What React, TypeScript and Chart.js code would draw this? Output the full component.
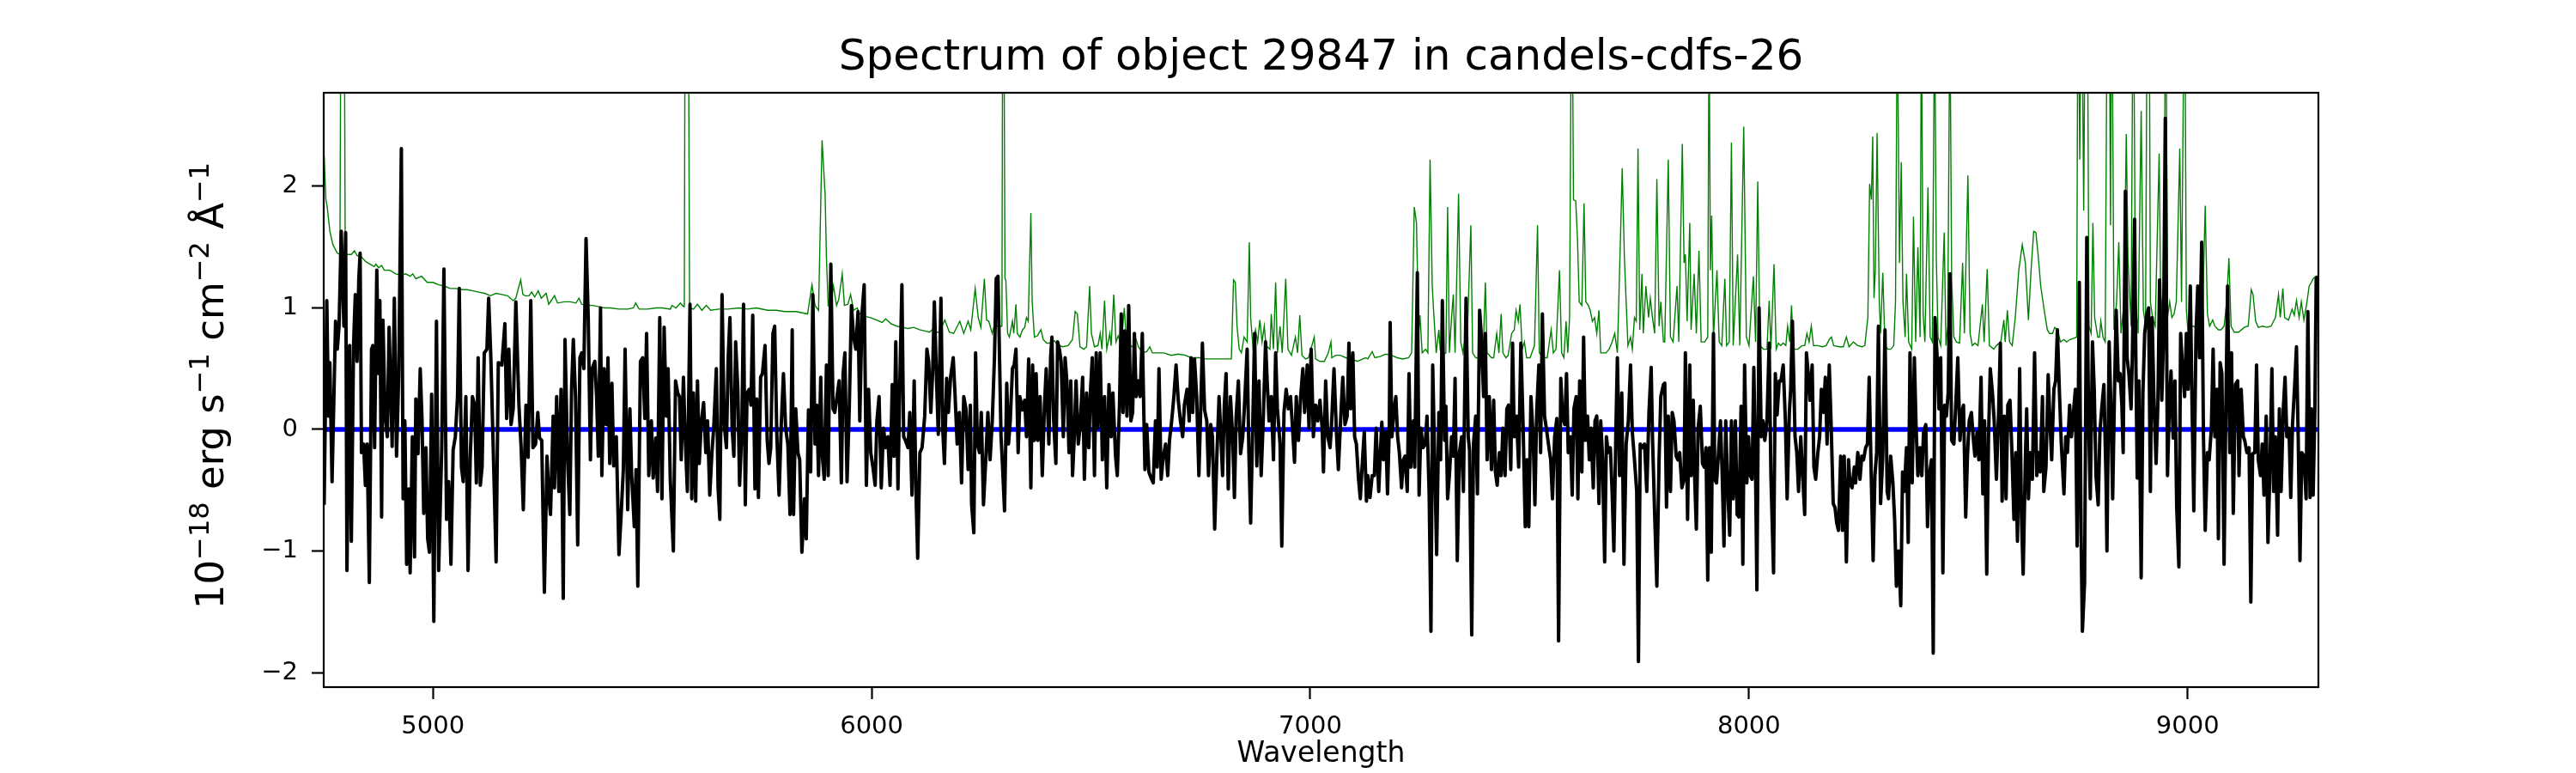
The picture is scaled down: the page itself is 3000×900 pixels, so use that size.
import React, { useEffect, useRef } from 'react';
import Chart from 'chart.js/auto';

const TITLE = 'Spectrum of object 29847 in candels-cdfs-26';
const X_LABEL = 'Wavelength';
// y label as [text, isSuperscript] pieces: 10^-18 erg s^-1 cm^-2 Å^-1
const Y_LABEL_PARTS: [string, boolean][] = [
	['10', false],
	['\u221218', true],
	[' erg s', false],
	['\u22121', true],
	[' cm', false],
	['\u22122', true],
	[' \u00C5', false],
	['\u22121', true],
];
const FONT = "'DejaVu Sans', sans-serif";

const X_TICKS = [5000, 6000, 7000, 8000, 9000];
const Y_TICKS = [-2, -1, 0, 1, 2];
const X_MIN = 4751;
const X_MAX = 9298;
const Y_MIN = -2.12;
const Y_MAX = 2.77;

// observed flux (black)
const FLUX_WAVE = [
	4752, 4758, 4762, 4765, 4770, 4778, 4782, 4786, 4791, 4797,
	4801, 4804, 4810, 4814, 4819, 4823, 4827, 4831, 4834, 4837,
	4842, 4846, 4850, 4855, 4860, 4863, 4867, 4872, 4876, 4879,
	4883, 4886, 4891, 4896, 4900, 4904, 4907, 4912, 4917, 4922,
	4928, 4932, 4936, 4940, 4945, 4948, 4953, 4958, 4961, 4966,
	4971, 4975, 4979, 4984, 4988, 4992, 4997, 5002, 5008, 5013,
	5020, 5025, 5031, 5036, 5041, 5046, 5051, 5056, 5060, 5065,
	5069, 5075, 5080, 5085, 5090, 5095, 5099, 5103, 5108, 5112,
	5117, 5123, 5127, 5132, 5137, 5144, 5149, 5157, 5164, 5168,
	5173, 5178, 5183, 5189, 5196, 5201, 5206, 5212, 5217, 5223,
	5228, 5234, 5239, 5243, 5248, 5254, 5260, 5264, 5268, 5274,
	5277, 5282, 5287, 5292, 5297, 5301, 5307, 5312, 5316, 5320,
	5325, 5330, 5335, 5339, 5344, 5349, 5354, 5359, 5363, 5369,
	5373, 5377, 5382, 5385, 5390, 5395, 5399, 5403, 5408, 5412,
	5418, 5424, 5429, 5434, 5438, 5444, 5449, 5453, 5459, 5463,
	5467, 5473, 5478, 5483, 5487, 5492, 5498, 5502, 5508, 5512,
	5517,
	5522, 5527, 5532, 5536, 5541, 5548, 5553, 5558, 5562, 5566,
	5571, 5575, 5580, 5586, 5590, 5594, 5599, 5603, 5607, 5612,
	5617, 5622, 5626, 5631, 5636, 5640, 5646, 5650, 5654, 5659,
	5664, 5669, 5673, 5677, 5682, 5686, 5690, 5695, 5699, 5704,
	5708, 5712, 5716, 5721, 5725, 5729, 5734, 5738, 5742, 5747,
	5751, 5757, 5762, 5766, 5770, 5775, 5779, 5784, 5789, 5794,
	5799, 5804, 5809, 5814, 5819, 5822, 5827, 5832, 5836, 5841,
	5847, 5851, 5856, 5861, 5866, 5871, 5875, 5879, 5884, 5887,
	5892, 5897, 5901, 5907, 5912, 5916, 5921, 5926, 5931, 5935,
	5939, 5944, 5949, 5954, 5959, 5964, 5969, 5973, 5978, 5983,
	5988, 5993, 5998, 6003, 6008, 6012, 6017, 6022, 6027, 6032,
	6037, 6042, 6047, 6051, 6055, 6060, 6064, 6069, 6073, 6077,
	6083, 6087, 6092, 6097, 6101, 6105, 6110, 6115, 6121, 6126,
	6130, 6135, 6139, 6143, 6148, 6152, 6158, 6162, 6166, 6171,
	6175, 6180, 6186, 6190, 6195, 6200, 6205, 6210, 6215, 6220,
	6225, 6228, 6233, 6237, 6241, 6246, 6250, 6255, 6261, 6265,
	6270, 6275, 6280, 6284,
	6288, 6295, 6298, 6303, 6308, 6312, 6316, 6321, 6325, 6329,
	6334, 6338, 6344, 6349, 6353, 6358, 6363, 6367, 6371, 6375,
	6379, 6384, 6389, 6394, 6398, 6404, 6408, 6411, 6415, 6420,
	6424, 6428, 6432, 6437, 6441, 6445, 6450, 6454, 6458, 6462,
	6466, 6471, 6475, 6481, 6485, 6490, 6495, 6499, 6503, 6508,
	6512, 6516, 6521, 6526, 6531, 6536, 6541, 6546, 6550, 6556,
	6560, 6565, 6569, 6573, 6577, 6582, 6586, 6591, 6595, 6599,
	6603, 6608, 6612, 6617, 6623, 6627, 6632, 6637, 6642, 6647,
	6651, 6655, 6660, 6664, 6670, 6675, 6679, 6684, 6689, 6694,
	6699, 6704, 6709, 6713, 6719, 6724, 6728, 6732, 6736, 6741,
	6746, 6750, 6754, 6759, 6764, 6768, 6773, 6777, 6782, 6787,
	6792, 6795, 6800, 6804, 6808, 6813, 6818, 6823, 6827, 6831,
	6836, 6841, 6846, 6850, 6856, 6860, 6864, 6869, 6873, 6878,
	6883, 6888, 6893, 6898, 6902, 6906, 6911, 6916, 6921, 6925,
	6931, 6935, 6940, 6945, 6950, 6955, 6960, 6964, 6968, 6973,
	6978, 6983, 6987, 6993, 6997, 7002, 7007, 7012, 7017, 7022,
	7027, 7030, 7035, 7040, 7045,
	7048, 7054, 7060, 7064, 7069, 7074, 7079, 7084, 7088, 7092,
	7097, 7101, 7105, 7110, 7114, 7118, 7123, 7128, 7131, 7136,
	7141, 7146, 7150, 7156, 7159, 7163, 7167, 7172, 7176, 7180,
	7182, 7186, 7191, 7195, 7199, 7203, 7208, 7212, 7216, 7221,
	7225, 7229, 7235, 7238, 7244, 7248, 7252, 7257, 7262, 7266,
	7271, 7275, 7279, 7284, 7288, 7293, 7297, 7301, 7306, 7309,
	7313, 7317, 7322, 7326, 7330, 7335, 7340, 7345, 7349, 7355,
	7360, 7363, 7368, 7372, 7377, 7381, 7386, 7390, 7395, 7399,
	7403, 7408, 7413, 7418, 7422, 7426, 7431, 7435, 7439, 7444,
	7448, 7452, 7457, 7461, 7465, 7470, 7475, 7480, 7485, 7490,
	7494, 7498, 7503, 7508, 7512, 7516, 7521, 7525, 7529, 7534,
	7538, 7544, 7548, 7552, 7557, 7562, 7566, 7571, 7575, 7580,
	7584, 7588, 7593, 7597, 7601, 7606, 7610, 7614, 7619, 7623,
	7627, 7632, 7636, 7640, 7645, 7649, 7653, 7658, 7662, 7666,
	7671, 7675, 7679, 7684, 7688, 7692, 7697, 7700, 7705, 7710,
	7715, 7720, 7725, 7730, 7734, 7739, 7744, 7748, 7752, 7758,
	7762, 7767, 7772, 7777, 7780, 7785, 7790, 7795, 7799, 7805,
	7808, 7812, 7816, 7821, 7825, 7829, 7834, 7838, 7842, 7847,
	7852, 7855, 7860, 7865, 7868, 7873, 7876, 7880, 7884, 7889,
	7894, 7898, 7902, 7906, 7910, 7914, 7919, 7922, 7926, 7930,
	7935, 7939, 7943, 7947, 7951, 7956, 7960, 7964, 7969, 7973,
	7977, 7982, 7986, 7990, 7995, 7999, 8003, 8007, 8011, 8015,
	8018, 8023, 8028, 8032, 8036, 8041, 8046, 8050, 8056, 8060,
	8064, 8069, 8073, 8078, 8083, 8087, 8092, 8095, 8099, 8105,
	8109, 8113, 8118, 8122, 8127, 8131, 8135, 8139, 8144, 8148,
	8152, 8157, 8161, 8165, 8170, 8174, 8178, 8183, 8187, 8192,
	8196, 8200, 8204, 8209, 8213, 8217, 8222, 8227, 8230, 8235,
	8240, 8243, 8248, 8253, 8257, 8261, 8266, 8270, 8274, 8279,
	8283, 8287, 8291, 8295, 8300, 8305, 8310, 8315, 8318, 8323,
	8328, 8332, 8336, 8341, 8346, 8350, 8354, 8359, 8363, 8367,
	8372, 8377, 8381, 8385, 8390, 8394, 8398, 8403, 8407, 8411,
	8416, 8420, 8424, 8429, 8433, 8437, 8442, 8446, 8450, 8454,
	8458, 8462, 8467, 8471, 8476, 8481, 8485, 8489, 8494, 8498,
	8502, 8507, 8511, 8515, 8520, 8524, 8529, 8533, 8537, 8542,
	8546, 8550, 8555, 8559, 8564, 8569,
	8573, 8577, 8582, 8586, 8590, 8595, 8599, 8604, 8608, 8612,
	8617, 8621, 8625, 8630, 8633, 8637, 8641, 8646, 8651, 8656,
	8660, 8664, 8669, 8672, 8677, 8682, 8686, 8690, 8695, 8699,
	8703, 8708, 8712, 8718, 8722, 8726, 8731, 8735, 8739, 8744,
	8748, 8753, 8757, 8760, 8765, 8770, 8774, 8778, 8783, 8787,
	8791, 8796, 8800, 8804, 8809, 8814, 8816, 8821, 8825, 8829,
	8833, 8837, 8842, 8846, 8850, 8853, 8858, 8862, 8866, 8871,
	8874, 8879, 8882, 8885, 8889, 8894, 8898, 8902, 8907, 8911,
	8915, 8919, 8923, 8928, 8932, 8936, 8941, 8945, 8949, 8954,
	8958, 8962, 8967, 8971, 8975, 8980, 8984, 8988, 8993, 8997,
	9001, 9006, 9010, 9014, 9019, 9023, 9027, 9032, 9036, 9040,
	9045, 9049, 9054, 9058, 9062, 9067, 9070, 9074, 9078, 9083,
	9087, 9091, 9096, 9100, 9104, 9109, 9114, 9117, 9122, 9127,
	9130, 9135, 9140, 9144, 9148, 9153, 9157, 9161, 9166, 9170,
	9174, 9179, 9183, 9187, 9192, 9196, 9200, 9205, 9209, 9213,
	9218, 9222, 9226, 9231, 9235, 9239, 9244, 9248, 9252, 9256,
	9260, 9265, 9270, 9274, 9279, 9282, 9286, 9290, 9293, 9297,
];

const FLUX = [
	-0.62, 1.06, 0.11, 0.55, -0.43, 0.89, 0.66, 0.85, 1.63, 0.85,
	1.62, -1.16, 0.69, -0.92, 0.69, 1.11, 0.56, 1.24, 1.45, -0.19,
	-0.12, -0.46, -0.12, -1.26, 0.66, 0.69, -0.15, 1.31, 0.46, 1.06,
	-0.72, 0.9, 0.11, -0.06, 0.84, 0.3, -0.14, 1.08, -0.22, 0.45,
	2.31, -0.57, 0.07, -1.11, -0.49, -1.18, -0.06, -1.05, 0.25, -0.2,
	0.5, 0.09, -0.69, -0.15, -0.9, -1.01, 0.29, -1.58, 0.89, -1.16,
	-0.15, 1.32, -0.74, -0.43, -1.11, -0.17, -0.06, 0.27, 1.16, -0.31,
	-0.43, 0.27, -1.16, -0.23, 0.27, 0.2, -0.44, 0.59, -0.46, -0.31,
	0.63, 0.66, 1.08, 0.59, -0.1, -1.09, 0.55, 0.53, 0.87, 0.09,
	0.66, 0.04, 0.17, 1.05, 0.2, -0.15, -0.66, 0.2, -0.23, 1.06,
	-0.15, -0.12, 0.14, -0.07, -0.09, -1.34, -0.22, -0.54, -0.7, 0.11,
	-0.48, 0.27, -0.51, 0.33, -1.39, 0.74, -0.25, -0.7, 0.33, 0.74,
	0.27, -0.95, 0.59, 0.63, 0.5, 1.57, 0.92, -0.25, 0.5, 0.56,
	0.27, -0.22, 1.0, -0.38, 0.5, 0.04, 0.59, -0.28, 0.38, -0.3,
	-0.06, -1.03, -0.7, -0.33, 0.66, -0.66, 0.17, -0.38, -0.8, -0.33,
	-1.29, 0.56, 0.59, 0.09, 0.79, -0.38, 0.07, -0.4, -0.07, -0.51,
	0.92,
	-0.57, 0.84, 0.11, 0.5, -0.41, -1.0, 0.4, 0.3, 0.27, -0.25,
	0.43, -0.06, -0.51, 1.03, -0.57, 0.3, -0.59, 0.4, -0.28, 0.07,
	0.22, -0.19, 0.07, -0.54, -0.19, 0.01, 0.5, -0.48, -0.74, 1.11,
	0.04, -0.15, 0.59, 0.92, 0.01, -0.22, 0.72, 0.33, -0.46, -0.02,
	1.03, -0.62, 0.3, 0.33, 0.2, 0.94, -0.49, 0.25, -0.56, 0.43,
	0.46, 0.69, -0.09, -0.28, -0.15, 0.79, 0.85, -0.06, -0.54, 0.04,
	0.46, 0.01, -0.12, -0.7, 0.82, -0.7, 0.17, -0.19, -0.25, -1.01,
	-0.57, -0.9, 0.16, -0.35, 1.11, -0.12, 0.2, -0.38, 0.43, -0.19,
	-0.41, 0.53, -0.38, 1.36, 0.17, 0.14, 0.27, 0.4, -0.44, 0.46,
	0.63, -0.43, 0.17, 1.02, 0.76, 0.66, 0.97, 0.07, 0.95, 1.19,
	-0.46, 0.33, -0.19, -0.31, -0.46, 0.07, 0.27, -0.48, 0.01, -0.15,
	-0.06, -0.46, 0.37, -0.22, 0.72, -0.49, 0.33, 1.19, -0.06, -0.09,
	-0.15, 0.14, -0.54, 0.4, -0.49, -1.06, -0.19, -0.15, 0.11, 0.66,
	0.56, 0.14, 0.46, 1.05, 0.4, -0.04, 1.08, 0.01, -0.28, 0.42,
	0.14, 0.43, 0.59, 0.3, -0.12, 0.14, -0.44, 0.27, 0.17, -0.33,
	0.2, -0.62, -0.85, 0.63, -0.12, -0.19, 0.14, -0.62, -0.19, 0.14,
	-0.25, 0.07, 0.59, 1.24,
	1.26, -0.06, -0.27, -0.67, 0.38, -0.12, 0.07, 0.5, 0.53, 0.66,
	-0.19, 0.27, 0.16, 0.24, -0.06, 0.58, -0.48, 0.53, -0.09, 0.46,
	-0.09, 0.27, -0.38, 0.2, 0.5, -0.12, 0.59, 0.76, 0.07, -0.28,
	0.72, 0.66, 0.56, -0.06, 0.59, 0.4, -0.19, 0.4, -0.38, -0.06,
	0.4, -0.12, 0.01, 0.43, -0.41, 0.3, -0.15, 0.33, 0.59, -0.38,
	0.63, 0.01, 0.63, -0.25, 0.27, -0.48, 0.37, -0.06, 0.3, -0.22,
	-0.38, 0.2, 0.95, 0.14, 0.81, 0.11, 1.02, 0.07, 0.14, 0.79,
	0.27, 0.4, 0.27, 0.79, -0.33, 0.04, -0.35, -0.4, -0.44, 0.07,
	-0.31, 0.5, -0.41, -0.25, -0.12, -0.38, -0.09, 0.07, 0.27, 0.53,
	0.24, 0.07, -0.06, 0.2, 0.33, 0.07, 0.59, 0.14, 0.58, 0.27,
	-0.38, 0.14, 0.71, 0.16, 0.07, -0.38, 0.04, -0.06, -0.82, -0.22,
	0.27, 0.04, -0.38, 0.2, 0.46, -0.49, 0.27, -0.06, -0.56, 0.11,
	0.4, -0.2, -0.06, 0.2, 0.66, -0.19, -0.77, 0.07, 0.79, -0.3,
	0.4, -0.38, 0.11, 0.72, 0.37, 0.07, 0.27, -0.25, 0.63, 0.17,
	-0.12, -0.96, 0.14, 0.33, 0.17, 0.27, -0.02, -0.27, 0.27, -0.09,
	0.27, 0.5, 0.14, 0.53, 0.01, 0.66, -0.06, 0.2, 0.07, 0.24,
	0.01, -0.35, 0.4, -0.06, -0.15,
	0.01, 0.5, -0.06, -0.33, 0.07, 0.43, 0.04, 0.11, 0.71, 0.17,
	0.63, -0.06, -0.12, -0.41, -0.57, -0.31, -0.02, -0.59, -0.38, -0.56,
	-0.38, -0.38, 0.01, -0.51, -0.25, 0.06, -0.25, -0.02, -0.53, 0.01,
	0.88, -0.06, 0.17, 0.27, -0.06, -0.19, -0.48, -0.25, -0.22, -0.51,
	0.46, -0.31, 0.07, -0.31, 1.29, -0.54, 0.01, -0.15, -0.12, 0.11,
	-0.54, -1.66, 0.53, -0.33, -1.03, 0.14, -0.25, 1.06, -0.09, 0.19,
	-0.57, -0.38, -0.06, -0.22, 0.42, -1.08, -0.19, -0.06, -0.51, 1.08,
	-0.06, -0.17, -1.69, -0.12, 0.11, -0.53, 0.98, 0.76, 0.27, 0.79,
	-0.25, 0.27, -0.33, 0.24, -0.35, -0.46, -0.19, -0.38, 0.01, -0.38,
	0.17, 0.2, -0.33, 0.71, -0.06, 0.11, -0.31, 0.71, 0.04, -0.8,
	-0.25, -0.8, 0.27, -0.06, -0.62, 0.14, 0.53, -0.19, 0.95, 0.11,
	0.01, -0.15, -0.25, -0.57, -0.06, 0.09, -1.74, 0.42, 0.11, 0.04,
	0.46, -0.19, -0.06, -0.54, 0.17, 0.27, -0.57, 0.4, -0.35, 0.76,
	-0.09, 0.11, -0.25, 0.01, -0.48, 0.07, 0.11, -0.61, 0.07, -0.22,
	-1.09, -0.06, -0.19, -0.15, -0.51, -1.0, 0.07, 0.59, -0.38, 0.3,
	-1.11, -0.12, 0.07, 0.53, -0.02, -0.25, -0.51, -1.91, -0.12, -0.15,
	-0.12, -0.51, 0.14, 0.51, -0.06, -0.7, -1.29, -0.25, 0.27, 0.37,
	0.38, -0.64, 0.11, -0.51, 0.14, 0.07, -0.22, -0.25, -0.19, -0.48,
	-0.41, 0.63, -0.74, 0.53, -0.38, 0.24, -0.38, -0.82, 0.01, 0.19,
	-0.28, -0.31, -0.15, -1.24, -0.15, -1.01, 0.79, -0.41, -0.44, -0.22,
	0.07, -0.38, -0.96, 0.07, -0.44, -0.87, 0.07, -0.57, 0.07, -0.7,
	-0.72, 0.19, -1.11, 0.53, -0.44, -0.06, -0.38, -0.41, 0.51, -0.35,
	-1.32, 1.0, -0.06, 0.07, -0.09, 0.07, 0.71, -0.38, -1.18, 0.46,
	0.12, 0.4, 0.4, 0.53, 0.07, -0.57, 0.14, 0.33, 0.89, -0.06,
	-0.19, -0.51, -0.06, -0.35, -0.7, 0.63, 0.46, 0.24, 0.53, -0.31,
	-0.41, -0.19, -0.06, 0.33, 0.14, 0.43, -0.12, 0.53, 0.07, -0.61,
	-0.64, -0.77, -0.83, -0.22, -0.83, -0.22, -1.09, -0.25, -0.44, -0.48,
	-0.31, -0.44, -0.19, -0.41, -0.22, -0.25, -0.15, -0.12, 0.43, -0.43,
	-1.08, -0.38, -0.19, 0.85, -0.61, -0.22, 0.82, -0.51, -0.57, -0.22,
	-0.44, -0.74, -1.29, -1.0, -1.45, -0.35, -0.51, -0.15, -0.93, 0.63,
	-0.44, 0.59, 0.01, -0.38, -0.15, -0.38, -0.02, 0.04, -0.8, -0.38,
	-0.25, -1.84, 0.92, 0.59, 0.17, 0.59, -1.18, 0.2, 0.11, 0.3,
	1.28, -0.09, -0.12, 0.17, 0.59, -0.09, 0.14, 0.2, -0.72, -0.22,
	0.07, 0.14, -0.06, -0.22, -0.02, -0.25, 0.43, -0.53, 0.07, -1.19,
	-0.06, 0.5, 0.3, 0.07, -0.41, 0.14,
	0.71, -0.59, 0.11, -0.57, 0.2, 0.24, -0.15, -0.74, -0.19, -0.92,
	0.5, -0.7, -1.19, -0.25, 0.17, -0.57, -0.19, -0.41, 0.63, -0.38,
	-0.19, -0.35, 0.27, -0.51, -0.31, 0.45, 0.07, -0.25, 0.33, 0.4,
	0.82, 0.27, -0.12, -0.53, -0.06, -0.19, 0.2, -0.06, 0.11, 0.33,
	-0.96, 1.21, -0.87, -1.66, -1.26, 1.58, 0.11, -0.57, 0.72, 0.33,
	-0.38, -0.62, -0.02, 0.17, 0.37, -0.43, -1.0, 0.72, 0.2, -0.57,
	0.27, 0.98, 0.4, 0.46, 0.2, -0.19, 1.96, 0.59, 0.46, 0.17,
	0.63, 1.73, 0.53, -0.4, 0.4, -1.22, 0.3, 0.79, 0.95, 1.0,
	-0.51, 0.92, 0.27, -0.28, 0.2, 1.23, 0.24, 0.76, 2.56, -0.38,
	0.17, 0.48, -0.07, 0.4, -0.64, -1.13, 0.79, 0.53, 0.27, 0.79,
	0.33, 1.18, 0.2, -0.67, 0.79, 1.18, 0.59, 1.54, -0.06, -0.83,
	-0.19, -0.25, 0.01, 0.66, -0.06, 0.33, -0.9, 0.55, 0.46, -1.11,
	0.17, 1.18, -0.19, 0.63, -0.69, 0.37, 0.4, -0.38, 0.33, -0.06,
	-0.09, -0.19, -0.15, -1.42, -0.2, -0.19, 0.53, -0.25, -0.38, -0.12,
	-0.54, 0.11, -0.93, -0.41, 0.5, -0.51, -0.06, -0.87, 0.17, -0.51,
	0.17, 0.43, -0.06, 0.01, -0.56, 0.04, 0.37, 0.68, -0.06, -1.08,
	-0.19, -0.22, -0.57, 0.97, -0.56, 0.17, -0.54, 0.17, 1.24, 1.26,
];

// noise / sky spectrum (green)
const NOISE_WAVE = [
	4752, 4756, 4759, 4765, 4772, 4782, 4788, 4790, 4794, 4798,
	4800, 4804, 4814, 4821, 4827, 4837, 4847, 4857, 4866, 4870,
	4876, 4883, 4889, 4902, 4915, 4928, 4938, 4948, 4954, 4961,
	4974, 4987, 5000, 5013, 5026, 5039, 5052, 5065, 5078, 5091,
	5104, 5118, 5131, 5144, 5157, 5170, 5183, 5189, 5194, 5200,
	5205, 5210, 5219, 5225, 5232, 5240, 5247, 5258, 5264, 5277,
	5284, 5300, 5313, 5326, 5333, 5339, 5352, 5365, 5378, 5391,
	5404, 5424, 5444, 5457, 5462, 5470, 5489, 5509,
	5522, 5541, 5545, 5554, 5564, 5571, 5573, 5575, 5578, 5582,
	5585, 5594, 5603, 5613, 5623, 5633, 5652, 5672, 5698, 5717,
	5737, 5763, 5783, 5802, 5828, 5854, 5864, 5871, 5879, 5887,
	5894, 5897, 5901, 5908, 5913, 5920, 5925, 5933, 5938, 5946,
	5952, 5959, 5967, 5973, 5985, 5998, 6011, 6024, 6032, 6044,
	6057, 6070, 6083, 6096, 6109, 6122, 6132, 6138, 6145, 6154,
	6167, 6177, 6187, 6201, 6210, 6220, 6226, 6236, 6243, 6249,
	6257, 6262, 6267, 6275, 6282,
	6285, 6291, 6297, 6299, 6301, 6304, 6306, 6310, 6314, 6321,
	6324, 6329, 6332, 6338, 6344, 6349, 6353, 6357, 6363, 6366,
	6371, 6378, 6381, 6386, 6391, 6399, 6409, 6417, 6422, 6435,
	6448, 6458, 6464, 6469, 6475, 6484, 6490, 6497, 6501, 6508,
	6516, 6521, 6525, 6531, 6536, 6543, 6546, 6552, 6557, 6562,
	6567, 6572, 6576, 6582, 6588, 6595, 6601, 6608, 6618, 6627,
	6634, 6640, 6657, 6666, 6683, 6699, 6715, 6728, 6748, 6761,
	6781, 6800, 6820, 6825, 6829, 6833, 6838, 6843, 6849, 6856,
	6861, 6864, 6869, 6875, 6880, 6885, 6890, 6895, 6899, 6908,
	6911, 6916, 6921, 6925, 6931, 6936, 6944, 6949, 6957, 6966,
	6971, 6976, 6981, 6989, 6996, 7009, 7012, 7022, 7032, 7041,
	7047,
	7049, 7058, 7068, 7081, 7094, 7107, 7120, 7126, 7131, 7141,
	7147, 7159, 7172, 7185, 7198, 7211, 7224, 7231, 7237, 7242,
	7247, 7250, 7255, 7263, 7268, 7273, 7278, 7281, 7287, 7293,
	7296, 7301, 7309, 7313, 7317, 7322, 7326, 7330, 7338, 7343,
	7348, 7353, 7358, 7366, 7370, 7377, 7386, 7394, 7399, 7403,
	7413, 7418, 7425, 7430, 7435, 7439, 7446, 7451, 7459, 7465,
	7469, 7474, 7478, 7483, 7488, 7493, 7501, 7511, 7518, 7522,
	7531, 7540, 7549, 7554, 7560, 7568, 7573, 7578, 7583, 7587,
	7591, 7595, 7597, 7600, 7605, 7609, 7613, 7619, 7624, 7628,
	7634, 7638, 7643, 7648, 7653, 7658, 7662, 7668, 7674, 7681,
	7687, 7694, 7700, 7707, 7711, 7716, 7720, 7724, 7730, 7734,
	7739, 7743, 7747, 7751, 7756, 7759, 7765, 7771, 7775, 7780,
	7785, 7790, 7795, 7799, 7805,
	7808, 7816, 7821, 7827, 7836, 7840, 7848, 7852, 7855, 7859,
	7865, 7868, 7875, 7880, 7886, 7891, 7899, 7906, 7909, 7912,
	7915, 7919, 7927, 7932, 7938, 7945, 7949, 7955, 7960, 7964,
	7974, 7979, 7988, 7994, 8000, 8010, 8015, 8020, 8025, 8033,
	8041, 8046, 8050, 8057, 8062, 8067, 8072, 8078, 8084, 8088,
	8093, 8097, 8101, 8111, 8121, 8127, 8132, 8137, 8142, 8147,
	8157, 8167, 8176, 8183, 8188, 8193, 8206, 8215, 8222, 8228,
	8238, 8248, 8258, 8264, 8271, 8275, 8279, 8282, 8285, 8288,
	8292, 8297, 8300, 8305, 8310, 8317, 8323, 8330, 8334, 8338,
	8343, 8347, 8351, 8356, 8359, 8364, 8371, 8375, 8380, 8385,
	8390, 8393, 8397, 8401, 8408, 8413, 8418, 8423, 8427, 8431,
	8437, 8445, 8449, 8453, 8458, 8462, 8467, 8473, 8480, 8487,
	8491, 8499, 8504, 8509, 8515, 8522, 8532, 8536, 8543, 8548,
	8558, 8564,
	8574, 8581, 8584, 8589, 8594, 8600, 8607, 8615, 8623, 8630,
	8637, 8643, 8649, 8654, 8659, 8665, 8673, 8680, 8685, 8692,
	8697, 8703, 8710, 8718, 8724, 8732, 8740, 8747, 8750, 8754,
	8758, 8763, 8767, 8771, 8775, 8780, 8784, 8788, 8795, 8799,
	8802, 8807, 8812, 8817, 8821, 8824, 8827, 8832, 8838, 8843,
	8848, 8855, 8860, 8864, 8871, 8876, 8881, 8887, 8894, 8899,
	8904, 8908, 8912, 8915, 8920, 8926, 8935, 8939, 8946, 8950,
	8954, 8959, 8964, 8969, 8974, 8982, 8986, 8993, 8997, 9001,
	9008, 9014, 9021, 9027, 9033, 9040, 9045, 9050, 9057, 9062,
	9070, 9076, 9083, 9089, 9094, 9099, 9106, 9116, 9129, 9138,
	9145, 9149, 9155, 9161, 9171, 9181, 9190, 9200, 9207, 9211,
	9217, 9221, 9230, 9238, 9243, 9248, 9254, 9259, 9265, 9272,
	9277, 9282, 9286, 9292, 9297,
];

const NOISE = [
	2.25, 1.89, 1.83, 1.63, 1.52, 1.45, 1.44, 3.5, 4.5, 3.5,
	1.45, 1.44, 1.44, 1.47, 1.43, 1.42, 1.38, 1.36, 1.34, 1.36,
	1.33, 1.35, 1.31, 1.31, 1.28, 1.27, 1.28, 1.26, 1.28, 1.24,
	1.26, 1.21, 1.21, 1.19, 1.18, 1.16, 1.16, 1.15, 1.15, 1.14,
	1.13, 1.12, 1.1, 1.12, 1.11, 1.1, 1.06, 1.08, 1.15, 1.23,
	1.11, 1.1, 1.1, 1.13, 1.09, 1.14, 1.08, 1.12, 1.03, 1.1,
	1.04, 1.05, 1.05, 1.04, 1.08, 1.03, 1.02, 1.02, 1.01, 1.0,
	1.0, 0.99, 0.99, 1.0, 1.04, 0.99, 0.99, 1.0,
	1.0, 0.99, 1.02, 1.0, 1.04, 1.01, 1.01, 4.0, 8.0, 4.0,
	1.0, 0.99, 1.03, 0.98, 1.02, 0.98, 0.99, 0.99, 1.0, 0.99,
	1.0, 0.98, 0.98, 0.97, 0.97, 0.95, 1.19, 1.02, 0.98, 2.38,
	1.93, 1.41, 1.02, 1.05, 1.18, 1.02, 1.07, 1.28, 1.02, 1.03,
	1.11, 0.98, 1.0, 0.95, 0.93, 0.92, 0.9, 0.88, 0.91, 0.87,
	0.85, 0.84, 0.83, 0.84, 0.82, 0.81, 0.8, 0.82, 0.8, 0.8,
	0.9, 0.8, 0.79, 0.89, 0.79, 0.89, 0.82, 1.16, 0.92, 0.84,
	1.24, 0.9, 0.89, 0.79, 0.89,
	0.85, 0.85, 0.85, 4.0, 4.0, 1.24, 1.23, 0.79, 0.76, 0.89,
	0.79, 1.03, 0.79, 0.76, 0.82, 0.84, 0.92, 0.89, 1.78, 1.05,
	0.76, 0.77, 0.79, 0.82, 0.74, 0.71, 0.71, 0.73, 0.7, 0.68,
	0.69, 0.74, 0.97, 0.95, 0.68, 0.66, 0.68, 1.18, 0.79, 0.68,
	0.69, 0.79, 0.66, 1.06, 0.66, 0.79, 0.69, 1.11, 0.72, 0.77,
	0.72, 0.82, 1.0, 0.66, 0.69, 0.68, 0.76, 0.68, 0.63, 0.64,
	0.68, 0.63, 0.63, 0.63, 0.61, 0.62, 0.61, 0.59, 0.59, 0.58,
	0.58, 0.58, 0.58, 1.23, 1.21, 0.85, 0.66, 0.63, 0.76, 0.72,
	1.54, 0.92, 0.69, 0.82, 0.72, 0.9, 0.72, 0.85, 0.69, 0.66,
	0.95, 0.66, 1.21, 0.63, 0.85, 0.63, 1.24, 0.66, 0.61, 0.76,
	0.63, 0.94, 0.61, 0.58, 0.59, 0.76, 0.58, 0.56, 0.56, 0.63,
	0.72,
	0.59, 0.61, 0.61, 0.59, 0.58, 0.56, 0.58, 0.59, 0.58, 0.64,
	0.59, 0.6, 0.62, 0.61, 0.59, 0.58, 0.59, 0.63, 1.83, 1.7,
	0.79, 0.94, 0.63, 0.66, 0.63, 2.22, 1.18, 0.98, 0.63, 0.82,
	0.66, 0.61, 0.63, 1.83, 0.63, 0.92, 1.11, 0.63, 1.94, 0.72,
	0.63, 0.76, 0.79, 1.68, 0.63, 0.59, 0.59, 0.63, 1.21, 0.63,
	0.59, 0.59, 0.79, 0.63, 0.95, 0.63, 0.59, 0.61, 0.79, 0.82,
	0.98, 0.89, 1.03, 0.66, 0.72, 0.59, 0.59, 0.69, 1.68, 0.63,
	0.59, 0.59, 0.82, 0.63, 0.66, 1.31, 0.63, 0.59, 0.89, 0.63,
	0.92, 3.5, 3.5, 1.89, 1.88, 1.57, 1.05, 1.02, 1.86, 1.05,
	1.02, 0.98, 0.89, 0.92, 0.79, 0.98, 0.63, 0.63, 0.63, 0.66,
	0.71, 0.79, 0.63, 1.57, 2.15, 1.41, 1.05, 0.69, 0.76, 0.66,
	0.92, 0.89, 2.31, 0.82, 1.28, 0.79, 1.18, 0.92, 1.08, 0.92,
	0.79, 2.06, 0.85, 1.05, 0.72,
	0.72, 2.22, 0.76, 0.72, 1.18, 0.72, 2.35, 1.37, 1.44, 0.89,
	1.7, 0.82, 1.28, 0.79, 1.47, 0.72, 0.72, 0.76, 3.5, 1.31,
	1.76, 0.76, 1.31, 0.72, 0.69, 1.24, 0.69, 0.72, 2.36, 0.69,
	1.44, 0.69, 2.49, 0.76, 0.69, 1.26, 0.72, 2.04, 0.69, 0.66,
	0.66, 1.06, 0.66, 1.36, 0.66, 0.71, 0.69, 0.71, 0.69, 0.85,
	0.72, 1.02, 0.66, 0.66, 0.69, 0.69, 0.79, 0.72, 0.85, 0.69,
	0.69, 0.68, 0.69, 0.74, 0.76, 0.69, 0.68, 0.68, 0.76, 0.68,
	0.72, 0.69, 0.68, 0.69, 0.92, 2.02, 1.89, 2.41, 1.08, 1.31,
	2.44, 1.05, 0.79, 1.29, 0.69, 0.66, 0.66, 0.69, 1.05, 3.5,
	1.37, 2.2, 1.05, 0.76, 1.28, 0.72, 0.66, 1.75, 0.72, 1.5,
	0.76, 3.5, 0.95, 0.72, 1.99, 0.76, 0.72, 3.5, 1.41, 0.76,
	0.69, 1.62, 0.69, 0.85, 3.5, 1.24, 0.76, 0.72, 0.71, 1.37,
	0.79, 2.09, 0.79, 0.69, 0.71, 0.69, 1.03, 0.72, 1.32, 0.69,
	0.66, 0.69,
	0.72, 0.9, 0.72, 0.98, 0.72, 0.69, 0.92, 1.31, 1.52, 1.37,
	0.9, 1.31, 1.63, 1.62, 1.44, 1.18, 0.98, 0.82, 0.79, 0.79,
	0.84, 0.82, 0.72, 0.74, 0.72, 0.74, 0.75, 0.76, 4.0, 2.22,
	4.0, 1.8, 4.0, 4.0, 0.85, 0.79, 1.7, 0.92, 0.76, 0.76,
	0.89, 0.76, 0.72, 4.0, 4.0, 1.68, 4.0, 0.82, 1.05, 1.54,
	0.79, 1.05, 2.43, 1.41, 0.85, 4.0, 1.05, 0.79, 2.62, 0.98,
	0.85, 4.0, 4.0, 1.05, 0.92, 0.85, 2.27, 0.92, 1.24, 4.0,
	0.92, 1.05, 0.92, 0.95, 1.05, 2.31, 1.05, 4.0, 0.98, 0.79,
	0.85, 0.85, 0.82, 1.05, 0.82, 1.84, 0.95, 0.85, 0.9, 0.85,
	0.82, 0.82, 0.85, 1.05, 1.41, 0.85, 0.8, 0.8, 0.84, 0.85,
	1.15, 1.11, 0.89, 0.84, 0.85, 0.84, 0.85, 0.92, 1.11, 0.92,
	1.16, 0.92, 0.9, 0.99, 0.94, 1.06, 0.92, 1.05, 0.9, 1.05,
	1.18, 1.21, 1.24, 1.26, 1.24,
];

// model (blue)
const MODEL_WAVE = [4751, 9298];
const MODEL = [0, 0];

const toPoints = (xs: number[], ys: number[]) => xs.map((x, i) => ({ x, y: ys[i] }));

// black box round the plot area, drawn over the lines like matplotlib's spines
const framePlugin = {
	id: 'frame',
	afterDatasetsDraw(chart: any) {
		const { ctx, chartArea } = chart;
		ctx.save();
		ctx.strokeStyle = '#000000';
		ctx.lineWidth = 2.2;
		ctx.strokeRect(chartArea.left, chartArea.top, chartArea.right - chartArea.left, chartArea.bottom - chartArea.top);
		ctx.restore();
	},
};

// rotated y label with real superscripts (mathtext look)
const yLabelPlugin = {
	id: 'yLabel',
	afterDraw(chart: any) {
		const { ctx, chartArea } = chart;
		const mainSize = 45;
		const supSize = 32;
		const rise = 17;
		const mainFont = `${mainSize}px ${FONT}`;
		const supFont = `${supSize}px ${FONT}`;
		ctx.save();
		let total = 0;
		const widths = Y_LABEL_PARTS.map(([text, sup]) => {
			ctx.font = sup ? supFont : mainFont;
			const w = ctx.measureText(text).width;
			total += w;
			return w;
		});
		const centerY = (chartArea.top + chartArea.bottom) / 2 - 5;
		const baseX = chartArea.left - 117;
		ctx.translate(baseX, centerY);
		ctx.rotate(-Math.PI / 2);
		ctx.fillStyle = '#000000';
		ctx.textBaseline = 'alphabetic';
		ctx.textAlign = 'left';
		let x = -total / 2;
		Y_LABEL_PARTS.forEach(([text, sup], i) => {
			ctx.font = sup ? supFont : mainFont;
			ctx.fillText(text, x, sup ? -rise : 0);
			x += widths[i];
		});
		ctx.restore();
	},
};

const tickFont = { family: FONT, size: 29 };
const axisGrid = {
	drawOnChartArea: false,
	drawTicks: true,
	tickLength: 14,
	tickWidth: 2.2,
	tickColor: '#000000',
};

export default function App() {
	const canvasRef = useRef<HTMLCanvasElement>(null);
	const chartRef = useRef<Chart | null>(null);

	useEffect(() => {
		document.body.style.margin = '0';
		if (!canvasRef.current) return;
		if (chartRef.current) chartRef.current.destroy();

		chartRef.current = new Chart(canvasRef.current, {
			type: 'line',
			data: {
				datasets: [
					{
						label: 'flux',
						data: toPoints(FLUX_WAVE, FLUX),
						borderColor: '#000000',
						borderWidth: 4,
						pointRadius: 0,
						tension: 0,
						fill: false,
						borderJoinStyle: 'round',
						order: 0,
					},
					{
						label: 'noise',
						data: toPoints(NOISE_WAVE, NOISE),
						borderColor: '#008000',
						borderWidth: 1.4,
						pointRadius: 0,
						tension: 0,
						fill: false,
						order: 1,
					},
					{
						label: 'model',
						data: toPoints(MODEL_WAVE, MODEL),
						borderColor: '#0000ff',
						borderWidth: 5.5,
						pointRadius: 0,
						tension: 0,
						fill: false,
						order: 2,
					},
				],
			},
			options: {
				animation: false,
				responsive: false,
				devicePixelRatio: 1,
				events: [],
				layout: { padding: { left: 0, right: 300, top: 0, bottom: 0 } },
				plugins: {
					legend: { display: false },
					tooltip: { enabled: false },
					title: {
						display: true,
						fullSize: false,
						text: TITLE,
						color: '#000000',
						font: { family: FONT, size: 50, weight: 'normal' },
						padding: { top: 38, bottom: 10 },
					},
				},
				scales: {
					x: {
						type: 'linear',
						min: X_MIN,
						max: X_MAX,
						afterFit: (scale: any) => {
							scale.height = 100;
						},
						afterBuildTicks: (scale: any) => {
							scale.ticks = X_TICKS.map((value) => ({ value }));
						},
						border: { display: false },
						grid: axisGrid,
						ticks: {
							font: tickFont,
							color: '#000000',
							padding: 15,
							maxRotation: 0,
							autoSkip: false,
							callback: (value: any) => String(value),
						},
						title: {
							display: true,
							text: X_LABEL,
							color: '#000000',
							font: { family: FONT, size: 33 },
							padding: { top: 0, bottom: 2 },
						},
					},
					y: {
						type: 'linear',
						min: Y_MIN,
						max: Y_MAX,
						afterFit: (scale: any) => {
							scale.width = 377;
						},
						afterBuildTicks: (scale: any) => {
							scale.ticks = Y_TICKS.map((value) => ({ value }));
						},
						border: { display: false },
						grid: axisGrid,
						ticks: {
							font: tickFont,
							color: '#000000',
							padding: 16,
							autoSkip: false,
							callback: (value: any) => (value < 0 ? '\u2212' + Math.abs(value) : String(value)),
						},
						title: { display: false },
					},
				},
			},
			plugins: [framePlugin, yLabelPlugin],
		});

		return () => {
			if (chartRef.current) {
				chartRef.current.destroy();
				chartRef.current = null;
			}
		};
	}, []);

	return (
		<div style={{ width: 3000, height: 900 }}>
			<canvas ref={canvasRef} width={3000} height={900} style={{ display: 'block' }} />
		</div>
	);
}
